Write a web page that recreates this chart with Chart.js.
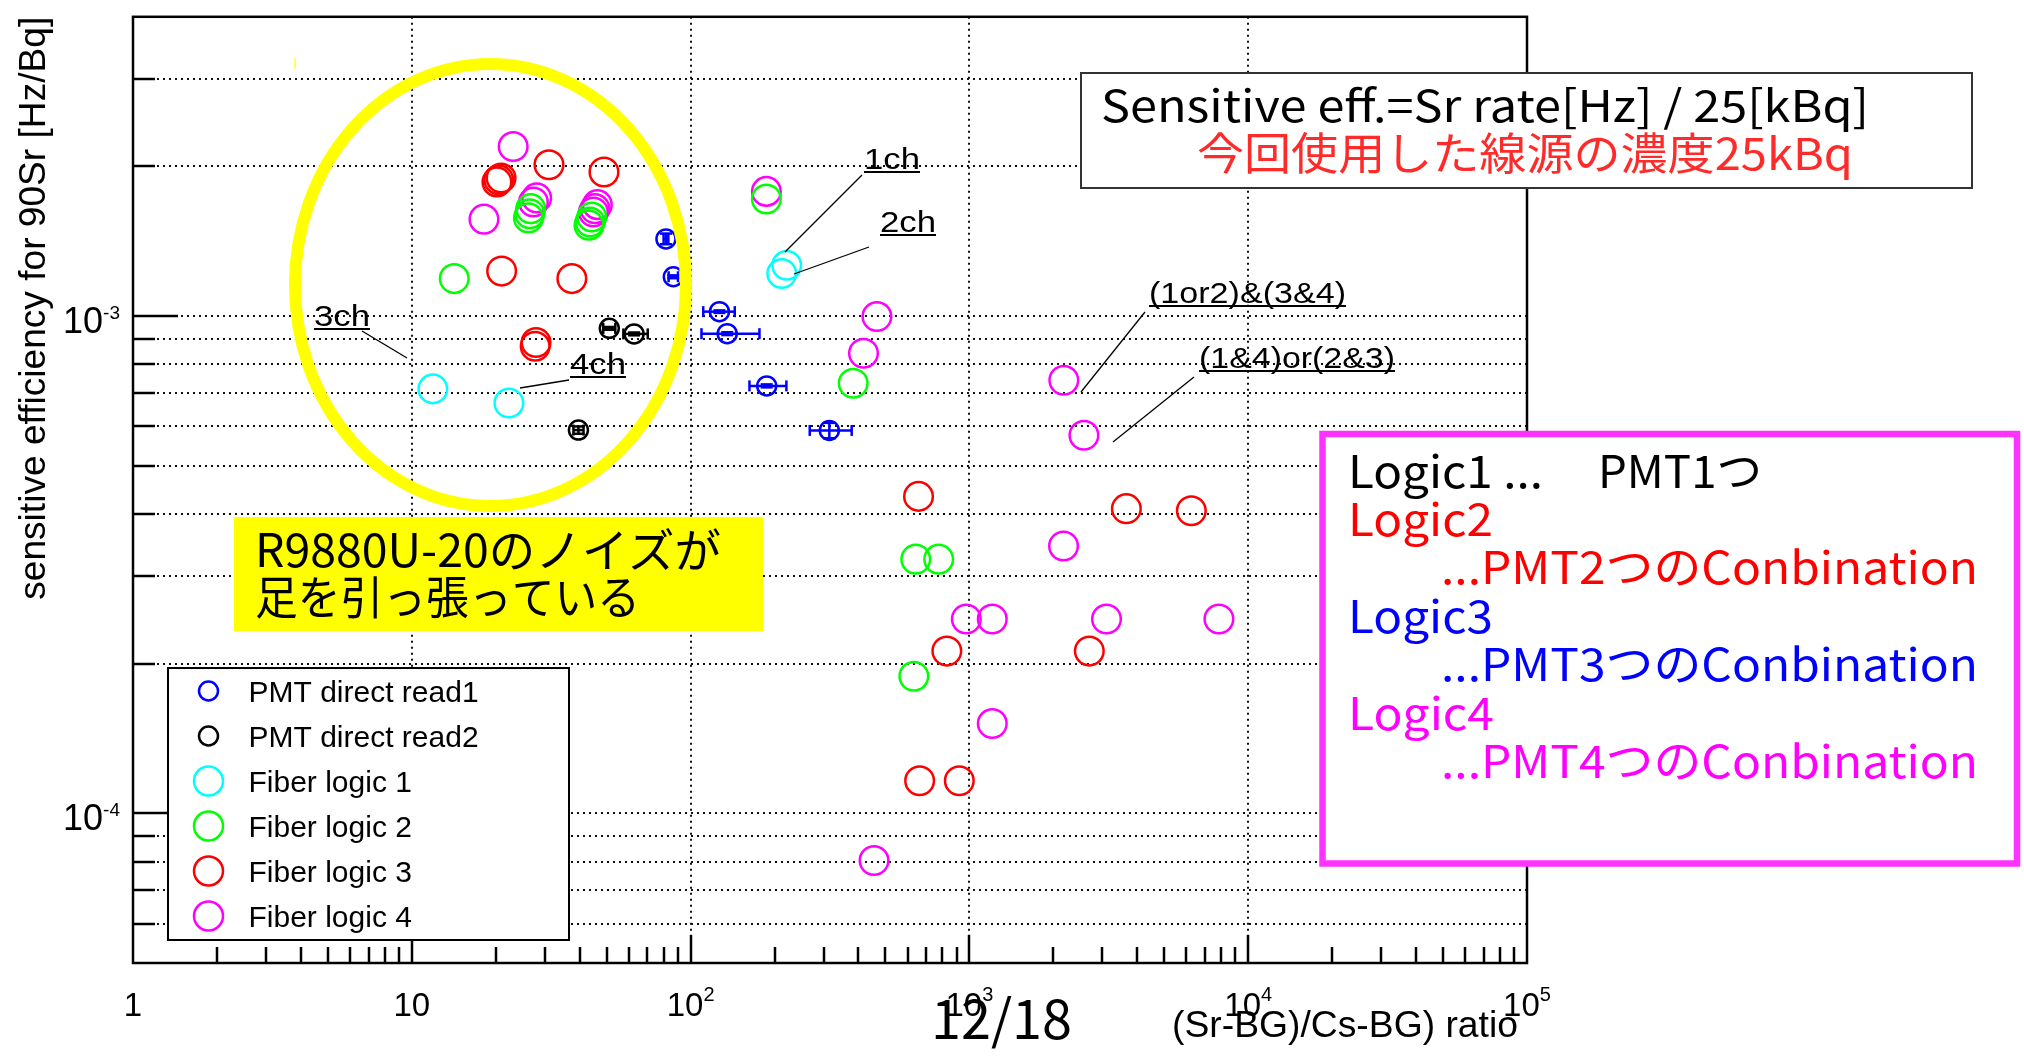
<!DOCTYPE html>
<html>
<head>
<meta charset="utf-8">
<title>sensitive efficiency vs (Sr-BG)/(Cs-BG)</title>
<script src="https://cdn.jsdelivr.net/npm/chart.js@4.4.1/dist/chart.umd.min.js"></script>
<style>
  html, body { margin: 0; padding: 0; background: #fff; overflow: hidden; }
  canvas { display: block; }
</style>
</head>
<body>
<canvas id="chart" width="2024" height="1057"></canvas>
<script>
// axis ranges and tick labels
const xMin = 1, xMax = 1e5;
const yMin = 5e-5, yMax = 4e-3;
const xTickValues = [1, 10, 100, 1000, 1e4, 1e5];
const xTickLabels = [["1", ""], ["10", ""], ["10", "2"], ["10", "3"], ["10", "4"], ["10", "5"]];
const yTickValues = [1e-3, 1e-4];
const yTickLabels = [["10", "-3"], ["10", "-4"]];
const xTitle = "(Sr-BG)/Cs-BG) ratio";
const yTitle = "sensitive efficiency for 90Sr [Hz/Bq]";

// PMT direct read1 (with error bars)
const read1X = [81.6, 86.7, 126.9, 135.3, 187.5, 314.5];
const read1Y = [1.43e-3, 1.20e-3, 1.021e-3, 0.922e-3, 0.724e-3, 0.589e-3];
const read1XLo = [80.0, 83.4, 111, 109.4, 162.6, 267.5];
const read1XHi = [83.2, 90.1, 144, 176.6, 220.6, 378.3];
const read1YLo = [1.395e-3, 1.192e-3, 1.015e-3, 0.916e-3, 0.719e-3, 0.568e-3];
const read1YHi = [1.466e-3, 1.208e-3, 1.027e-3, 0.928e-3, 0.729e-3, 0.610e-3];

// PMT direct read2 (with error bars)
const read2X = [51.1, 62.7, 39.6];
const read2Y = [0.945e-3, 0.921e-3, 0.590e-3];
const read2XLo = [48.6, 57.4, 38.0];
const read2XHi = [53.7, 70.2, 41.3];
const read2YLo = [0.939e-3, 0.915e-3, 0.580e-3];
const read2YHi = [0.951e-3, 0.927e-3, 0.600e-3];

// Fiber logic 1..4
const logic1X = [11.9, 22.3, 212.3, 221.2];
const logic1Y = [0.714e-3, 0.669e-3, 1.218e-3, 1.266e-3];

const logic2X = [14.2, 26.2, 26.5, 26.7, 43.2, 43.6, 44.2, 187, 383, 642, 776, 632];
const logic2Y = [1.19e-3, 1.576e-3, 1.607e-3, 1.645e-3, 1.524e-3, 1.547e-3, 1.583e-3, 1.72e-3, 0.733e-3, 0.3245e-3, 0.3245e-3, 0.1887e-3];

const logic3X = [20.2, 20.5, 20.9, 31.05, 48.9, 21.0, 37.5, 27.7, 27.9, 657, 3656, 6252, 830, 2692, 663, 920];
const logic3Y = [1.862e-3, 1.88e-3, 1.896e-3, 2.016e-3, 1.949e-3, 1.232e-3, 1.19e-3, 0.870e-3, 0.885e-3, 0.434e-3, 0.410e-3, 0.406e-3, 0.212e-3, 0.212e-3, 0.1163e-3, 0.1163e-3];

const logic4X = [23.1, 18.15, 27.3, 28.05, 44.8, 45.4, 46.3, 187, 466, 417, 2181, 2575, 2176, 975, 1208, 3103, 7852, 1208, 455];
const logic4Y = [2.194e-3, 1.567e-3, 1.697e-3, 1.729e-3, 1.62e-3, 1.645e-3, 1.676e-3, 1.782e-3, 0.998e-3, 0.842e-3, 0.743e-3, 0.576e-3, 0.345e-3, 0.246e-3, 0.246e-3, 0.246e-3, 0.246e-3, 0.1516e-3, 0.0804e-3];

const seriesNames = ["PMT direct read1", "PMT direct read2", "Fiber logic 1", "Fiber logic 2", "Fiber logic 3", "Fiber logic 4"];
const seriesColors = ["#0000ff", "#000000", "#00ffff", "#00ff00", "#ff0000", "#ff00ff"];

const rootFont = '"Liberation Sans", Arial, Helvetica, sans-serif';
const jpFont = '"Noto Sans CJK JP", "Noto Sans", sans-serif';

function pts(xs, ys) {
  return xs.map((x, i) => ({ x: x, y: ys[i] }));
}

// draws text, optionally squeezed/stretched horizontally to a given width
function fitText(ctx, s, x, y, size, family, color, width, align) {
  ctx.save();
  ctx.font = size + "px " + family;
  ctx.fillStyle = color;
  ctx.textAlign = "left";
  ctx.textBaseline = "alphabetic";
  const w0 = ctx.measureText(s).width;
  const sx = width ? width / w0 : 1;
  const w = w0 * sx;
  let x0 = x;
  if (align === "right") x0 = x - w;
  if (align === "center") x0 = x - w / 2;
  ctx.translate(x0, y);
  ctx.scale(sx, 1);
  ctx.fillText(s, 0, 0);
  ctx.restore();
  return w;
}

function powLabel(ctx, base, exp, x, y, size, expSize, rise, align) {
  ctx.save();
  ctx.fillStyle = "#000";
  ctx.textAlign = "left";
  ctx.font = size + "px " + rootFont;
  const wb = ctx.measureText(base).width;
  ctx.font = expSize + "px " + rootFont;
  const we = exp ? ctx.measureText(exp).width : 0;
  const tot = wb + we;
  const x0 = align === "right" ? x - tot : x - tot / 2;
  ctx.font = size + "px " + rootFont;
  ctx.fillText(base, x0, y);
  if (exp) {
    ctx.font = expSize + "px " + rootFont;
    ctx.fillText(exp, x0 + wb, y - rise);
  }
  ctx.restore();
}

function line(ctx, x1, y1, x2, y2) {
  ctx.beginPath();
  ctx.moveTo(x1, y1);
  ctx.lineTo(x2, y2);
  ctx.stroke();
}

// ROOT-like frame, dotted grid and tick marks
const rootAxes = {
  id: "rootAxes",
  beforeDatasetsDraw(chart) {
    const { ctx, chartArea: a, scales: { x, y } } = chart;
    ctx.save();
    ctx.strokeStyle = "#111";
    ctx.lineWidth = 2;
    ctx.setLineDash([2, 4]);
    for (let k = -5; k <= -3; k++) {
      for (let m = 1; m <= 9; m++) {
        const v = m * Math.pow(10, k);
        if (v <= yMin * 1.001 || v >= yMax * 0.999) continue;
        const py = Math.round(y.getPixelForValue(v));
        line(ctx, a.left, py, a.right, py);
      }
    }
    for (let k = 1; k <= 4; k++) {
      const px = Math.round(x.getPixelForValue(Math.pow(10, k)));
      line(ctx, px, a.top, px, a.bottom);
    }
    ctx.setLineDash([]);

    ctx.strokeStyle = "#000";
    ctx.lineWidth = 2.5;
    for (let k = -5; k <= -3; k++) {
      for (let m = 1; m <= 9; m++) {
        const v = m * Math.pow(10, k);
        if (v <= yMin * 1.001 || v >= yMax * 0.999) continue;
        const py = Math.round(y.getPixelForValue(v));
        line(ctx, a.left, py, a.left + (m === 1 ? 45 : 22), py);
      }
    }
    for (let k = 0; k <= 4; k++) {
      for (let m = 1; m <= 9; m++) {
        const v = m * Math.pow(10, k);
        if (v <= xMin * 1.001 || v >= xMax * 0.999) continue;
        const px = Math.round(x.getPixelForValue(v));
        line(ctx, px, a.bottom, px, a.bottom - (m === 1 ? 28 : 16));
      }
    }
    ctx.lineWidth = 2.5;
    ctx.strokeRect(a.left, a.top, a.right - a.left, a.bottom - a.top);
    ctx.restore();
  }
};

// error bars for the PMT direct read points
const errorBars = {
  id: "errorBars",
  afterDatasetsDraw(chart) {
    const { ctx, scales: { x, y } } = chart;
    ctx.save();
    chart.data.datasets.forEach(ds => {
      if (!ds.errXLo) return;
      ctx.strokeStyle = ds.borderColor;
      ctx.lineWidth = 2.5;
      ds.data.forEach((p, i) => {
        const px = x.getPixelForValue(p.x), py = y.getPixelForValue(p.y);
        const xl = x.getPixelForValue(ds.errXLo[i]), xh = x.getPixelForValue(ds.errXHi[i]);
        const yl = y.getPixelForValue(ds.errYLo[i]), yh = y.getPixelForValue(ds.errYHi[i]);
        line(ctx, xl, py, xh, py);
        line(ctx, xl, py - 5.5, xl, py + 5.5);
        line(ctx, xh, py - 5.5, xh, py + 5.5);
        line(ctx, px, yl, px, yh);
        line(ctx, px - 6, yl, px + 6, yl);
        line(ctx, px - 6, yh, px + 6, yh);
      });
    });
    ctx.restore();
  }
};

// slide annotations, legend and axis texts
const overlay = {
  id: "overlay",
  afterDraw(chart) {
    const { ctx, chartArea: a, scales: { x, y } } = chart;
    ctx.save();

    // axis labels
    xTickValues.forEach((v, i) => {
      powLabel(ctx, xTickLabels[i][0], xTickLabels[i][1], x.getPixelForValue(v), 1016, 33, 20, 15, "center");
    });
    yTickValues.forEach((v, i) => {
      powLabel(ctx, yTickLabels[i][0], yTickLabels[i][1], 120, y.getPixelForValue(v) + 17, 36, 19, 14, "right");
    });
    fitText(ctx, xTitle, 1518, 1037, 36, rootFont, "#000", 346, "right");
    ctx.save();
    ctx.translate(45, a.top);
    ctx.rotate(-Math.PI / 2);
    fitText(ctx, yTitle, 0, 0, 37, rootFont, "#000", 583, "right");
    ctx.restore();

    // channel labels with leader lines
    const chLabels = [
      ["1ch", 864, 169, 56, [862, 175, 785, 252]],
      ["2ch", 880, 232, 56, [869, 247, 794, 274]],
      ["3ch", 314, 326, 56, [362, 331, 407, 358]],
      ["4ch", 570, 374, 56, [569, 380, 520, 388]],
      ["(1or2)&(3&4)", 1149, 303, 197, [1145, 312, 1081, 392]],
      ["(1&4)or(2&3)", 1199, 368, 196, [1194, 377, 1113, 442]]
    ];
    ctx.strokeStyle = "#000";
    chLabels.forEach(l => {
      fitText(ctx, l[0], l[1], l[2], 30, rootFont, "#000", l[3]);
      ctx.lineWidth = 1.8;
      line(ctx, l[1], l[2] + 3, l[1] + l[3], l[2] + 3);
      ctx.lineWidth = 1.3;
      line(ctx, l[4][0], l[4][1], l[4][2], l[4][3]);
    });

    // faint yellow mark
    ctx.strokeStyle = "#ffff66";
    ctx.lineWidth = 2;
    line(ctx, 295, 58, 295, 69);

    // yellow ellipse
    ctx.strokeStyle = "#ffff00";
    ctx.lineWidth = 12;
    ctx.beginPath();
    ctx.ellipse(490.5, 285, 195.5, 221, 0, 0, Math.PI * 2);
    ctx.stroke();

    // yellow note
    ctx.fillStyle = "#ffff00";
    ctx.fillRect(234, 517, 529, 114);
    fitText(ctx, "R9880U-20のノイズが", 255, 567, 46, jpFont, "#000", 466);
    fitText(ctx, "足を引っ張っている", 255, 614, 46, jpFont, "#000", 385);

    // legend
    ctx.fillStyle = "#fff";
    ctx.fillRect(168, 668, 401, 272);
    ctx.strokeStyle = "#000";
    ctx.lineWidth = 2;
    ctx.strokeRect(168, 668, 401, 272);
    seriesNames.forEach((name, i) => {
      const cy = 691 + i * 45;
      ctx.strokeStyle = seriesColors[i];
      ctx.lineWidth = 2.5;
      ctx.beginPath();
      ctx.arc(208.5, cy, i < 2 ? 9.5 : 14.5, 0, Math.PI * 2);
      ctx.stroke();
      fitText(ctx, name, 248.5, cy + 10.5, 30, rootFont, "#000");
    });

    // formula box
    ctx.fillStyle = "#fff";
    ctx.fillRect(1081, 73, 891, 115);
    ctx.strokeStyle = "#333";
    ctx.lineWidth = 2;
    ctx.strokeRect(1081, 73, 891, 115);
    fitText(ctx, "Sensitive eff.=Sr rate[Hz] / 25[kBq]", 1101, 122, 44, jpFont, "#000", 768);
    fitText(ctx, "今回使用した線源の濃度25kBq", 1197, 170, 44, jpFont, "#ff2a2a", 656);

    // logic description box
    ctx.fillStyle = "#fff";
    ctx.fillRect(1322.5, 434, 694.5, 429.5);
    ctx.strokeStyle = "#ff33ff";
    ctx.lineWidth = 6.5;
    ctx.strokeRect(1322.5, 434, 694.5, 429.5);
    fitText(ctx, "Logic1 ...", 1348, 488, 45, jpFont, "#000", 195);
    fitText(ctx, "PMT1つ", 1598, 488, 45, jpFont, "#000", 164);
    fitText(ctx, "Logic2", 1348, 536, 45, jpFont, "#ff0000", 145);
    fitText(ctx, "...PMT2つのConbination", 1441, 584, 45, jpFont, "#ff0000", 537);
    fitText(ctx, "Logic3", 1348, 633, 45, jpFont, "#0000ff", 145);
    fitText(ctx, "...PMT3つのConbination", 1441, 681, 45, jpFont, "#0000ff", 537);
    fitText(ctx, "Logic4", 1348, 730, 45, jpFont, "#ff00ff", 146);
    fitText(ctx, "...PMT4つのConbination", 1441, 778, 45, jpFont, "#ff00ff", 537);

    // page number
    fitText(ctx, "12/18", 931, 1039, 54, jpFont, "#000", 141);

    ctx.restore();
  }
};

const bigR = 14.3, smallR = 9.5;

function makeSet(i, xs, ys, r, err) {
  const ds = {
    label: seriesNames[i],
    data: pts(xs, ys),
    borderColor: seriesColors[i],
    backgroundColor: "rgba(0,0,0,0)",
    borderWidth: 2.5,
    pointRadius: r,
    pointHoverRadius: r,
    pointStyle: "circle",
    showLine: false
  };
  if (err) {
    ds.errXLo = err[0];
    ds.errXHi = err[1];
    ds.errYLo = err[2];
    ds.errYHi = err[3];
  }
  return ds;
}

const ctx = document.getElementById("chart").getContext("2d");

new Chart(ctx, {
  type: "scatter",
  data: {
    datasets: [
      makeSet(0, read1X, read1Y, smallR, [read1XLo, read1XHi, read1YLo, read1YHi]),
      makeSet(1, read2X, read2Y, smallR, [read2XLo, read2XHi, read2YLo, read2YHi]),
      makeSet(2, logic1X, logic1Y, bigR),
      makeSet(3, logic2X, logic2Y, bigR),
      makeSet(4, logic3X, logic3Y, bigR),
      makeSet(5, logic4X, logic4Y, bigR)
    ]
  },
  options: {
    responsive: false,
    animation: false,
    devicePixelRatio: 1,
    layout: {
      padding: { left: 133, top: 15, right: 497, bottom: 94 }
    },
    scales: {
      x: { type: "logarithmic", min: xMin, max: xMax, display: false },
      y: { type: "logarithmic", min: yMin, max: yMax, display: false }
    },
    plugins: {
      legend: { display: false },
      tooltip: { enabled: false }
    }
  },
  plugins: [rootAxes, errorBars, overlay]
});
</script>
</body>
</html>
